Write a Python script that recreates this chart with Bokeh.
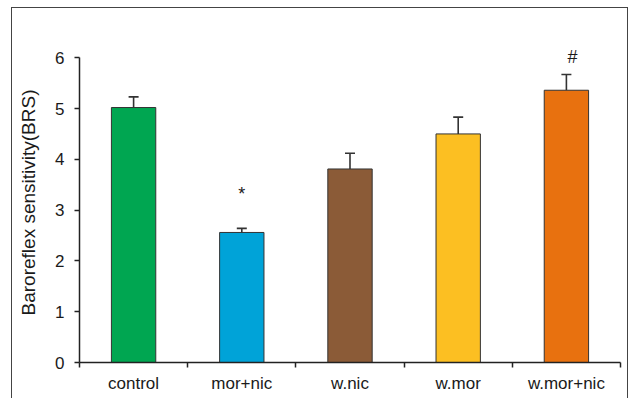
from bokeh.plotting import figure
from bokeh.models import (ColumnDataSource, Whisker, TeeHead, LinearAxis, Range1d,
                          FixedTicker)
from bokeh.core.properties import value
from bokeh.embed import file_html
from bokeh.resources import INLINE

# ---- data ----
groups = ["control", "mor+nic", "w.nic", "w.mor", "w.mor+nic"]
brs_mean = [5.02, 2.56, 3.81, 4.50, 5.36]
brs_sem = [0.21, 0.08, 0.31, 0.33, 0.31]
bar_colors = ["#00A651", "#00A3D8", "#8B5B37", "#FCBF22", "#E8710F"]
sig_marks = ["", "*", "", "", "#"]
y_ticks = [0, 1, 2, 3, 4, 5, 6]
y_title = "Baroreflex sensitivity(BRS)"

FONT = "Liberation Sans"
TXT = "#1a1a1a"
AX = "#222222"

n = len(groups)
centers = [i + 0.5 for i in range(n)]
edges = list(range(n + 1))
src = ColumnDataSource(dict(
    x=centers, m=brs_mean, top=[m + s for m, s in zip(brs_mean, brs_sem)],
    c=bar_colors,
))

p = figure(x_range=Range1d(0, n), y_range=Range1d(0, 6.3),
           width=617, height=391, output_backend="svg", toolbar_location=None,
           min_border_left=67, min_border_right=9, min_border_top=34,
           min_border_bottom=37, x_axis_location=None, y_axis_location=None)
p.styles = {"margin-left": "11px", "margin-top": "7px",
            "border-left": "1px solid #444", "border-top": "1px solid #444",
            "border-right": "1px solid #444"}
p.outline_line_color = None
p.xgrid.visible = False
p.ygrid.visible = False

# bars
p.vbar(x="x", top="m", width=0.41, bottom=0, fill_color="c",
       line_color="#333333", line_width=1, source=src)

# error bars (upward only)
wh = Whisker(base="x", lower="m", upper="top", source=src, dimension="height",
             line_color="#333333", line_width=1.6,
             upper_head=TeeHead(size=10, line_color="#333333", line_width=1.6),
             lower_head=None)
p.add_layout(wh)

# significance marks
offs = {"*": 0.67, "#": 0.34}
mk_x, mk_y, mk_t, mk_dx = [], [], [], []
for cx, t, mk in zip(centers, src.data["top"], sig_marks):
    if mk:
        mk_x.append(cx); mk_y.append(t + offs[mk]); mk_t.append(mk)
        mk_dx.append(6 if mk == "#" else 0)
p.text(x=mk_x, y=mk_y, text=mk_t, x_offset=mk_dx, text_align="center",
       text_baseline="alphabetic", text_font=value(FONT),
       text_font_size="18px", text_color=TXT)

# y axis (line only from 0 to 6)
yax = LinearAxis(ticker=FixedTicker(ticks=y_ticks), axis_label=y_title,
                 bounds=(y_ticks[0], y_ticks[-1]))
yax.major_tick_out = 5
yax.major_tick_in = 0
yax.minor_tick_line_color = None
yax.axis_line_color = AX
yax.major_tick_line_color = AX
yax.axis_line_width = 1.5
yax.major_tick_line_width = 1.5
yax.major_label_text_font = FONT
yax.major_label_text_font_size = "17px"
yax.major_label_text_color = TXT
yax.major_label_standoff = 10
yax.axis_label_text_font = FONT
yax.axis_label_text_font_size = "19px"
yax.axis_label_text_font_style = "normal"
yax.axis_label_text_color = TXT
yax.axis_label_standoff = 13
p.add_layout(yax, "left")

# x axis: labels at group centres, short ticks at group boundaries
xax = LinearAxis(ticker=FixedTicker(ticks=centers, minor_ticks=edges),
                 major_label_overrides={c: g for c, g in zip(centers, groups)})
xax.axis_line_color = AX
xax.axis_line_width = 1.5
xax.major_tick_line_color = None
xax.major_tick_out = 0
xax.major_tick_in = 0
xax.minor_tick_line_color = AX
xax.minor_tick_line_width = 1.5
xax.minor_tick_out = 5
xax.minor_tick_in = 0
xax.major_label_text_font = FONT
xax.major_label_text_font_size = "17px"
xax.major_label_text_color = TXT
xax.major_label_standoff = 6
p.add_layout(xax, "below")

open("out.html", "w").write(file_html(p, INLINE))
